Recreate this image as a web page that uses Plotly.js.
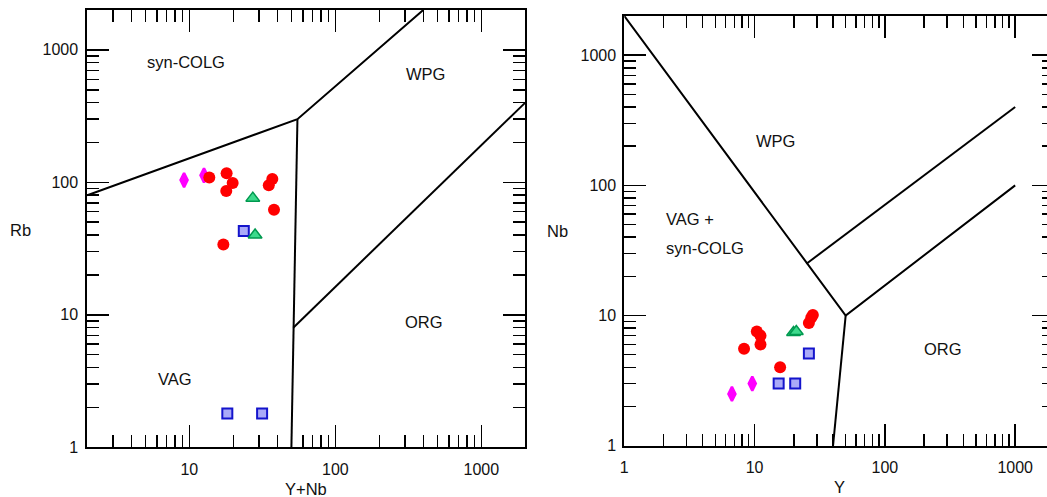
<!DOCTYPE html>
<html><head><meta charset="utf-8">
<script src="https://cdn.plot.ly/plotly-3.0.1.min.js"></script>
<style>html,body{margin:0;padding:0;overflow:hidden;background:#fff}</style>
</head><body><div id="chart" style="width:1070px;height:497px"></div>
<script>
// ---- Left diagram: Rb vs (Y+Nb) ----
const ynbCircle   = [13.7, 18.0, 19.8, 17.9, 35.0, 37.0, 38.0, 17.1];
const rbCircle    = [109, 117, 99, 86, 95, 106, 62, 34];
const ynbDiamond  = [9.2, 12.6];
const rbDiamond   = [104, 113];
const ynbTriangle = [27.2, 28.2];
const rbTriangle  = [76, 40];
const ynbSquare   = [23.6, 18.2, 31.5];
const rbSquare    = [43, 1.8, 1.8];

// ---- Right diagram: Nb vs Y ----
const yCircle   = [8.3, 10.4, 11.1, 11.1, 15.7, 26.1, 27.2, 28.0];
const nbCircle  = [5.55, 7.55, 7.0, 6.0, 4.0, 8.75, 9.6, 10.1];
const yDiamond  = [6.7, 9.6];
const nbDiamond = [2.5, 3.0];
const yTriangle = [19.9, 20.9];
const nbTriangle= [7.4, 7.55];
const ySquare   = [15.3, 20.5, 26.1];
const nbSquare  = [3.0, 3.0, 5.1];

// ---- Field boundaries (Pearce et al., 1984) ----
const bndLeftA_x = [2, 55, 400],   bndLeftA_y = [80, 300, 2000];
const bndLeftB_x = [55, 51.5, 50], bndLeftB_y = [300, 8, 1];
const bndLeftC_x = [51.5, 2000],   bndLeftC_y = [8, 400];
const bndRightD_x = [1, 50, 1000], bndRightD_y = [2000, 10, 100];
const bndRightE_x = [50, 40],      bndRightE_y = [10, 1];
const bndRightF_x = [25, 1000],    bndRightF_y = [25, 400];

const tickText = ['1', '10', '100', '1000'];

const W = 1070, H = 497;
const FONT = 'Liberation Sans, Arial, sans-serif';

function line(x, y, xa, ya) {
  return {x, y, xaxis: xa, yaxis: ya, mode: 'lines', type: 'scatter',
          line: {color: 'black', width: 2}, hoverinfo: 'skip', showlegend: false};
}
const styles = {
  diamond:  {symbol: 'diamond-tall', size: 10, color: '#FF00FF', line: {color: '#FF00FF', width: 2.5}},
  circle:   {symbol: 'circle', size: 12, color: '#FF0000', line: {width: 0}},
  square:   {symbol: 'square', size: 10, color: '#AAAAF8', line: {color: '#1414CC', width: 2}},
  triangle: {symbol: 'triangle-up', size: 12, color: '#3DDA8C', line: {color: '#00994F', width: 1.5}}
};
function pts(x, y, st, xa, ya) {
  return {x, y, xaxis: xa, yaxis: ya, mode: 'markers', type: 'scatter',
          marker: styles[st], showlegend: false};
}

const data = [
  line(bndLeftA_x, bndLeftA_y, 'x', 'y'),
  line(bndLeftB_x, bndLeftB_y, 'x', 'y'),
  line(bndLeftC_x, bndLeftC_y, 'x', 'y'),
  line(bndRightD_x, bndRightD_y, 'x2', 'y2'),
  line(bndRightE_x, bndRightE_y, 'x2', 'y2'),
  line(bndRightF_x, bndRightF_y, 'x2', 'y2'),
  pts(ynbDiamond, rbDiamond, 'diamond', 'x', 'y'),
  pts(ynbCircle, rbCircle, 'circle', 'x', 'y'),
  pts(ynbSquare, rbSquare, 'square', 'x', 'y'),
  pts(ynbTriangle, rbTriangle, 'triangle', 'x', 'y'),
  pts(yDiamond, nbDiamond, 'diamond', 'x2', 'y2'),
  pts(yCircle, nbCircle, 'circle', 'x2', 'y2'),
  pts(ySquare, nbSquare, 'square', 'x2', 'y2'),
  pts(yTriangle, nbTriangle, 'triangle', 'x2', 'y2')
];

function ax(domain, anchor, range, standoff) {
  return {
    type: 'log', range, domain, anchor,
    showline: true, linecolor: 'black', linewidth: 2, mirror: 'ticks',
    ticks: 'inside', ticklen: 22, tickwidth: 1.5, tickcolor: 'black',
    tickmode: 'array', tickvals: [1, 10, 100, 1000], ticktext: tickText,
    ticklabelstandoff: standoff,
    showgrid: false, zeroline: false,
    tickfont: {family: FONT, size: 16, color: '#111'},
    minor: {ticks: 'inside', ticklen: 12, tickwidth: 1.5, tickcolor: 'black',
            dtick: 'D1', showgrid: false}
  };
}
const L = Math.log10;
function pa(px, py, text, xanchor) {
  return {xref: 'paper', yref: 'paper', x: px / W, y: 1 - py / H, text,
          showarrow: false, xanchor: xanchor || 'center', yanchor: 'middle',
          font: {family: FONT, size: 16.5, color: '#111'}};
}

const layout = {
  width: W, height: H, margin: {l: 0, r: 0, t: 0, b: 0},
  paper_bgcolor: 'white', plot_bgcolor: 'white',
  xaxis:  ax([87.3 / W, 525.3 / W], 'y',  [L(2), L(2000)], 6),
  yaxis:  ax([1 - 447.3 / H, 1 - 10 / H], 'x', [0, L(2000)], 4),
  xaxis2: ax([624.3 / W, 1054.4 / W], 'y2', [0, L(2000)], 6),
  yaxis2: ax([1 - 445.7 / H, 1 - 16 / H], 'x2', [0, L(2000)], 3),
  annotations: [
    pa(186, 62, 'syn-COLG'), pa(425, 74, 'WPG'), pa(424, 322, 'ORG'), pa(175, 379, 'VAG'),
    pa(775, 141, 'WPG'), pa(664, 219, 'VAG +', 'left'), pa(664, 248, 'syn-COLG', 'left'),
    pa(943, 349, 'ORG'),
    pa(20, 230, 'Rb'), pa(557, 231, 'Nb'), pa(306, 489, 'Y+Nb'), pa(839, 487, 'Y')
  ],
  showlegend: false
};

Plotly.newPlot('chart', data, layout, {displayModeBar: false, staticPlot: true});
</script>
</body></html>
